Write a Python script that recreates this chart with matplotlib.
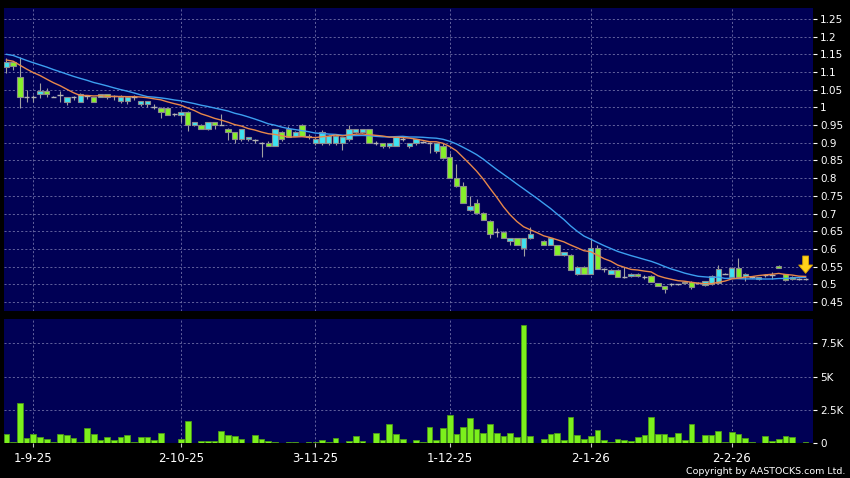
import numpy as np
import pandas as pd
import matplotlib
matplotlib.use('Agg')
import matplotlib.pyplot as plt

# Daily candles, one entry per trading session (4 sessions before 1-9-25 .. mid Feb 26)
# NaN = no trade that day
opens = [1.115, 1.128, 1.087, 1.03, 1.03, 1.037, 1.047, 1.03, 1.035, 1.016,
         1.03, 1.016, 1.032, 1.03, 1.03, 1.037, 1.032, 1.018, 1.018, 1.03,
         1.009, 1.009, 1.0, 0.999, 0.998, 0.98, 0.979, 0.988, 0.95, 0.95,
         0.938, 0.958, 0.95, 0.94, 0.93, 0.91, 0.91, 0.908, 0.9, 0.899,
         0.892, 0.93, 0.938, 0.92, 0.95, 0.915, 0.899, 0.899, 0.899, 0.899,
         0.899, 0.91, 0.93, 0.93, 0.938, 0.9, 0.899, 0.892, 0.892, 0.91,
         0.89, 0.899, 0.902, 0.9, 0.877, 0.89, 0.859, 0.8, 0.779, 0.71,
         0.729, 0.701, 0.68, 0.649, 0.649, 0.621, 0.63, 0.602, 0.63, np.nan,
         0.623, 0.611, 0.611, 0.583, 0.583, 0.53, 0.55, 0.53, 0.602, 0.543,
         0.53, 0.54, 0.52, 0.524, 0.53, 0.52, 0.524, 0.503, 0.494, 0.5,
         0.5, 0.503, 0.506, 0.505, 0.498, 0.5, 0.503, 0.53, 0.522, 0.546,
         0.523, 0.52, 0.514, 0.525, 0.525, 0.553, 0.528, 0.522, 0.515, 0.515]
highs = [1.14, 1.13, 1.141, 1.05, 1.035, 1.068, 1.055, 1.032, 1.047, 1.03,
         1.032, 1.04, 1.035, 1.03, 1.037, 1.037, 1.035, 1.035, 1.03, 1.035,
         1.018, 1.018, 1.01, 1.0, 0.998, 0.985, 0.99, 0.99, 0.958, 0.952,
         0.958, 0.958, 0.98, 0.942, 0.93, 0.94, 0.917, 0.912, 0.903, 0.905,
         0.94, 0.932, 0.948, 0.932, 0.952, 0.925, 0.915, 0.935, 0.922, 0.922,
         0.917, 0.95, 0.94, 0.94, 0.94, 0.905, 0.9, 0.9, 0.92, 0.915,
         0.9, 0.912, 0.905, 0.902, 0.9, 0.9, 0.87, 0.84, 0.79, 0.75,
         0.74, 0.705, 0.682, 0.66, 0.652, 0.632, 0.632, 0.632, 0.661, np.nan,
         0.625, 0.632, 0.612, 0.592, 0.585, 0.552, 0.552, 0.63, 0.61, 0.545,
         0.542, 0.542, 0.55, 0.532, 0.532, 0.525, 0.526, 0.505, 0.495, 0.505,
         0.502, 0.508, 0.508, 0.507, 0.51, 0.525, 0.555, 0.532, 0.548, 0.574,
         0.532, 0.522, 0.52, 0.528, 0.535, 0.555, 0.53, 0.524, 0.518, 0.518]
lows = [1.097, 1.105, 0.998, 1.016, 1.015, 1.026, 1.03, 1.028, 1.016, 1.007,
        1.02, 1.016, 1.025, 1.016, 1.03, 1.025, 1.02, 1.012, 1.01, 1.02,
        1.005, 1.0, 0.995, 0.97, 0.979, 0.975, 0.96, 0.932, 0.948, 0.938,
        0.935, 0.938, 0.95, 0.908, 0.9, 0.905, 0.905, 0.9, 0.86, 0.89,
        0.89, 0.905, 0.915, 0.918, 0.918, 0.912, 0.895, 0.895, 0.895, 0.895,
        0.88, 0.905, 0.928, 0.928, 0.9, 0.895, 0.885, 0.885, 0.89, 0.905,
        0.885, 0.895, 0.898, 0.87, 0.87, 0.855, 0.8, 0.775, 0.729, 0.708,
        0.7, 0.682, 0.631, 0.635, 0.63, 0.61, 0.612, 0.581, 0.628, np.nan,
        0.61, 0.61, 0.583, 0.58, 0.541, 0.525, 0.53, 0.528, 0.543, 0.535,
        0.528, 0.522, 0.518, 0.522, 0.522, 0.515, 0.506, 0.494, 0.475, 0.495,
        0.498, 0.5, 0.488, 0.5, 0.495, 0.498, 0.5, 0.528, 0.52, 0.52,
        0.51, 0.518, 0.512, 0.522, 0.515, 0.545, 0.51, 0.512, 0.512, 0.512]
closes = [1.128, 1.116, 1.029, 1.03, 1.03, 1.047, 1.037, 1.03, 1.035, 1.029,
          1.03, 1.037, 1.032, 1.016, 1.037, 1.03, 1.032, 1.03, 1.03, 1.03,
          1.018, 1.018, 1.0, 0.988, 0.979, 0.98, 0.988, 0.95, 0.958, 0.938,
          0.958, 0.95, 0.95, 0.93, 0.91, 0.94, 0.917, 0.908, 0.9, 0.892,
          0.938, 0.911, 0.917, 0.93, 0.92, 0.92, 0.911, 0.93, 0.92, 0.92,
          0.915, 0.938, 0.938, 0.938, 0.9, 0.9, 0.892, 0.899, 0.917, 0.91,
          0.899, 0.91, 0.902, 0.9, 0.899, 0.858, 0.8, 0.779, 0.729, 0.722,
          0.701, 0.682, 0.642, 0.649, 0.63, 0.63, 0.612, 0.63, 0.642, np.nan,
          0.611, 0.63, 0.583, 0.59, 0.541, 0.55, 0.53, 0.602, 0.543, 0.543,
          0.54, 0.522, 0.52, 0.53, 0.524, 0.52, 0.506, 0.494, 0.486, 0.5,
          0.5, 0.506, 0.491, 0.505, 0.508, 0.523, 0.543, 0.53, 0.546, 0.522,
          0.53, 0.52, 0.52, 0.525, 0.525, 0.547, 0.512, 0.514, 0.515, 0.515]
# volume in thousands of shares
volumes_k = [0.68, 0.12, 3.05, 0.42, 0.70, 0.45, 0.30, 0.08, 0.68, 0.62,
             0.42, 0.08, 1.15, 0.70, 0.25, 0.45, 0.25, 0.45, 0.60, 0.08,
             0.48, 0.48, 0.25, 0.75, 0.05, 0.03, 0.30, 1.68, 0.03, 0.18,
             0.18, 0.18, 0.95, 0.62, 0.58, 0.32, 0.03, 0.62, 0.32, 0.20,
             0.12, 0.02, 0.12, 0.10, 0.02, 0.08, 0.10, 0.22, 0.08, 0.38,
             0.05, 0.15, 0.58, 0.15, 0.02, 0.78, 0.25, 1.42, 0.68, 0.30,
             0.02, 0.28, 0.08, 1.25, 0.25, 1.12, 2.10, 0.70, 1.20, 1.88,
             1.08, 0.75, 1.42, 0.75, 0.55, 0.80, 0.48, 8.87, 0.58, 0.0,
             0.30, 0.68, 0.75, 0.25, 2.00, 0.62, 0.30, 0.58, 1.00, 0.25,
             0.08, 0.32, 0.25, 0.15, 0.50, 0.62, 1.98, 0.70, 0.68, 0.45,
             0.78, 0.22, 1.48, 0.10, 0.62, 0.62, 0.90, 0.12, 0.82, 0.72,
             0.42, 0.08, 0.0, 0.58, 0.15, 0.32, 0.55, 0.48, 0.0, 0.10]
# closes before the window, estimated from where the MA lines start
prior_closes = [1.18, 1.17, 1.17, 1.16, 1.17, 1.16, 1.17, 1.16, 1.16, 1.16,
                1.15, 1.14, 1.14, 1.13, 1.13, 1.14, 1.13, 1.12, 1.13]

tick_sessions = [4, 26, 46, 66, 87, 108]
tick_labels = ['1-9-25', '2-10-25', '3-11-25', '1-12-25', '2-1-26', '2-2-26']
price_ticks = [0.45, 0.5, 0.55, 0.6, 0.65, 0.7, 0.75, 0.8, 0.85, 0.9, 0.95,
               1.0, 1.05, 1.1, 1.15, 1.2, 1.25]
vol_ticks = [0, 2500, 5000, 7500]
vol_tick_labels = ['0', '2.5K', '5K', '7.5K']

NAVY = '#000055'
CYAN = '#3EE3F2'
LIME = '#86F02A'
GRID = '#7070a8'

o = np.array(opens, dtype=float)
h = np.array(highs, dtype=float)
l = np.array(lows, dtype=float)
c = np.array(closes, dtype=float)
vol = np.array(volumes_k) * 1000
x = np.arange(len(c))

valid = ~np.isnan(c)
body_lo = np.minimum(o, c)
body_h = np.abs(c - o)
flat = valid & (body_h < 0.003)
up = valid & ~flat & (c >= o)
down = valid & ~flat & (c < o)

# moving averages (10 / 20 sessions)
all_c = pd.Series(prior_closes + list(c)).ffill()
ma10 = all_c.rolling(10).mean().to_numpy()[len(prior_closes):]
ma20 = all_c.rolling(20).mean().to_numpy()[len(prior_closes):]

fig = plt.figure(figsize=(8.5, 4.78), dpi=100, facecolor='black')
ax = fig.add_axes([0.0047, 0.3494, 0.9518, 0.634])
axv = fig.add_axes([0.0047, 0.0726, 0.9518, 0.26], sharex=ax)

for a in (ax, axv):
    a.set_facecolor(NAVY)
    for s in a.spines.values():
        s.set_visible(False)
    a.set_axisbelow(True)
    a.grid(True, color=GRID, ls=(0, (2.5, 2.5)), lw=0.6)
    a.yaxis.tick_right()
    a.tick_params(axis='y', colors='white', labelsize=7.5, length=3,
                  width=0.8, pad=2)

# price panel
w = 0.8
ax.vlines(x[valid], l[valid], h[valid], color='#a0a0a0', lw=0.8, zorder=2)
ax.bar(x[up], body_h[up], bottom=body_lo[up], width=w, color=CYAN,
       edgecolor='#8c8c8c', lw=0.8, zorder=3)
ax.bar(x[down], body_h[down], bottom=body_lo[down], width=w, color=LIME,
       edgecolor='#8c8c8c', lw=0.8, zorder=3)
ax.hlines(c[flat], x[flat] - w / 2, x[flat] + w / 2, color='#b4b4b4', lw=1.0,
          zorder=3)
ax.plot(x, ma20, color='#3c9ff0', lw=1.0, zorder=4)
ax.plot(x, ma10, color='#e8884a', lw=1.0, zorder=4)

# yellow marker above the latest session
last = x[valid][-1]
ax.annotate('', xy=(last, h[last] + 0.013), xytext=(last, h[last] + 0.062),
            arrowprops=dict(arrowstyle='simple,head_length=0.6,head_width=1.0,tail_width=0.42',
                            fc='#FFD21A', ec='#D9A400', lw=0.6, mutation_scale=10,
                            shrinkA=0, shrinkB=0),
            zorder=6)

ax.set_ylim(0.4246, 1.281)
ax.set_yticks(price_ticks)
ax.set_yticklabels(['%g' % t for t in price_ticks])
ax.set_xlim(-0.36, 120.1)
ax.set_xticks(tick_sessions)
ax.tick_params(axis='x', length=0, labelbottom=False)

# volume panel
axv.bar(x, vol, width=0.85, color='#7CF01C', edgecolor='#4c9a18', lw=0.6, zorder=3)
axv.set_ylim(0, 9320)
axv.set_yticks(vol_ticks)
axv.set_yticklabels(vol_tick_labels)
axv.set_xticks(tick_sessions)
axv.set_xticklabels(tick_labels)
axv.tick_params(axis='x', colors='#c8c8c8', labelcolor='white', labelsize=8.5,
                length=3, width=0.8, pad=3)

fig.text(0.994, 0.004, 'Copyright by AASTOCKS.com Ltd.', ha='right', va='bottom',
         color='white', fontsize=6.8)

fig.savefig('out.png', dpi=100, facecolor='black')
